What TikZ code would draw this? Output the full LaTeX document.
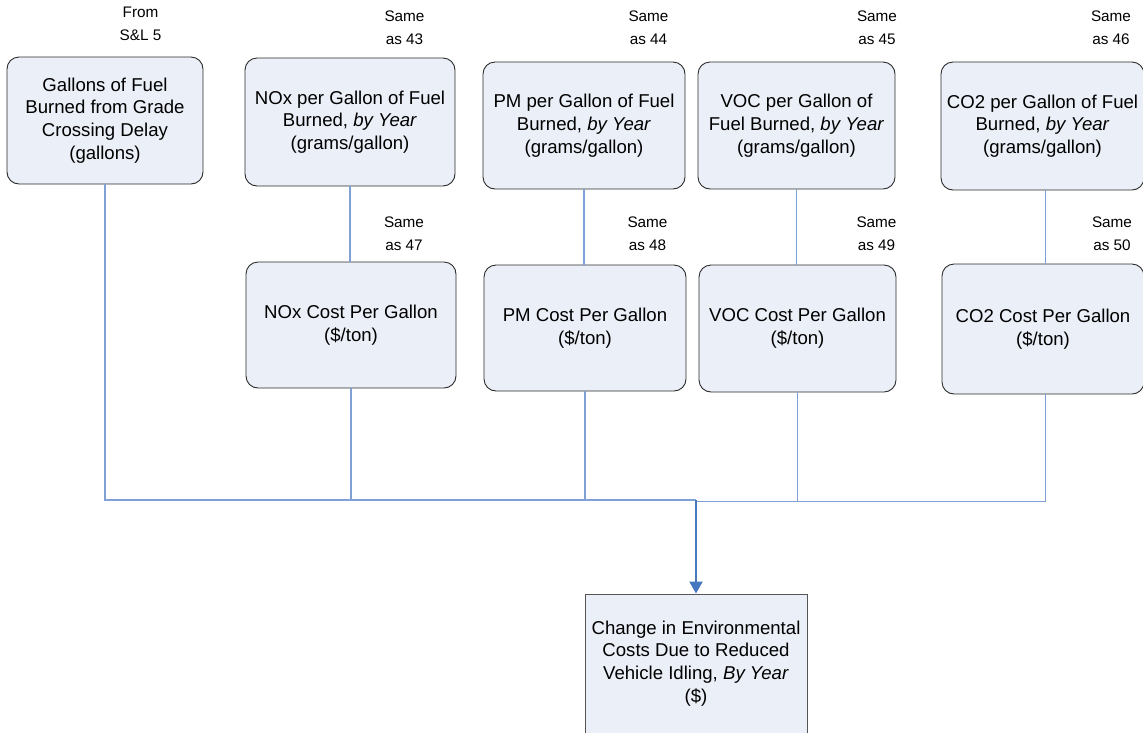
\documentclass[tikz,border=0pt]{standalone}
\usepackage{fontspec}
\setmainfont{Liberation Sans}
\usetikzlibrary{arrows.meta}
\definecolor{boxfill}{HTML}{EBEFF7}
\definecolor{boxline}{HTML}{2B2B2B}
\definecolor{wire}{HTML}{7FA1D6}
\definecolor{feed}{HTML}{4676C0}

\begin{document}
\begin{tikzpicture}[x=1pt,y=-1pt,
  box/.style={draw=boxline, fill=boxfill, rounded corners=12pt, line width=0.9pt,
    inner sep=0pt, align=center, font=\fontsize{18.6}{22.8}\selectfont},
  sqbox/.style={box, rounded corners=0pt, draw=boxline!80},
  note/.style={inner sep=0pt, align=center, font=\fontsize{15.3}{23}\selectfont},
  wireline/.style={draw=wire, line width=1.1pt},
  feedline/.style={draw=feed, line width=2pt, -{Triangle[width=13pt,length=12pt]}}]

\useasboundingbox (0,0) rectangle (1143,732);

% source quantities
\node[box, minimum width=196pt, minimum height=127pt] (gal) at (105,120.5)
  {Gallons of Fuel\\Burned from Grade\\Crossing Delay\\(gallons)};
\node[box, minimum width=210pt, minimum height=128pt] (nox) at (350,122)
  {NOx per Gallon of Fuel\\Burned, \textit{by Year}\\(grams/gallon)};
\node[box, minimum width=202pt, minimum height=127pt] (pm) at (584,125.5)
  {PM per Gallon of Fuel\\Burned, \textit{by Year}\\(grams/gallon)};
\node[box, minimum width=197pt, minimum height=127pt] (voc) at (796.5,125.5)
  {VOC per Gallon of\\Fuel Burned, \textit{by Year}\\(grams/gallon)};
\node[box, minimum width=203pt, minimum height=128pt] (co2) at (1042.5,126)
  {CO2 per Gallon of Fuel\\Burned, \textit{by Year}\\(grams/gallon)};

% unit costs
\node[box, minimum width=210pt, minimum height=126pt] (noxc) at (351,325)
  {NOx Cost Per Gallon\\(\$/ton)};
\node[box, minimum width=202pt, minimum height=126pt] (pmc) at (585,328)
  {PM Cost Per Gallon\\(\$/ton)};
\node[box, minimum width=197pt, minimum height=127pt] (vocc) at (797.5,328.5)
  {VOC Cost Per Gallon\\(\$/ton)};
\node[box, minimum width=202pt, minimum height=130pt] (co2c) at (1043,329)
  {CO2 Cost Per Gallon\\(\$/ton)};

% result
\node[sqbox, minimum width=222pt, minimum height=139pt] (out) at (696,663.5)
  {Change in Environmental\\Costs Due to Reduced\\Vehicle Idling, \textit{By Year}\\(\$)};

% source notes
\node[note] (n0) at (140.5,23.5) {From\\S\&L 5};
\node[note] (n43) at (404.5,27.5) {Same\\as 43};
\node[note] (n44) at (648.5,27.5) {Same\\as 44};
\node[note] (n45) at (877,27.5) {Same\\as 45};
\node[note] (n46) at (1111,27.5) {Same\\as 46};
\node[note] (n47) at (404,233.5) {Same\\as 47};
\node[note] (n48) at (647.5,233.5) {Same\\as 48};
\node[note] (n49) at (876.5,233.5) {Same\\as 49};
\node[note] (n50) at (1112,233.5) {Same\\as 50};

% merge points on the collecting line
\coordinate (mL) at (696,500);
\coordinate (mR) at (696,501.5);
\coordinate (co2x) at (1045.5,0);

% emission rate to unit cost
\draw[wireline] (nox.south) -- (nox.south |- noxc.north);
\draw[wireline] (pm.south) -- (pm.south |- pmc.north);
\draw[wireline] (voc.south) -- (voc.south |- vocc.north);
\draw[wireline] (co2.south -| co2x) -- (co2c.north -| co2x);

% everything gathers into the result
\draw[wireline] (gal.south) |- (mL);
\draw[wireline] (noxc.south) |- (mL);
\draw[wireline] (pmc.south) |- (mL);
\draw[wireline] (vocc.south) |- (mR);
\draw[wireline] (co2c.south -| co2x) |- (mR);
\draw[feedline] (mL) -- (out.north);

\end{tikzpicture}
\end{document}
